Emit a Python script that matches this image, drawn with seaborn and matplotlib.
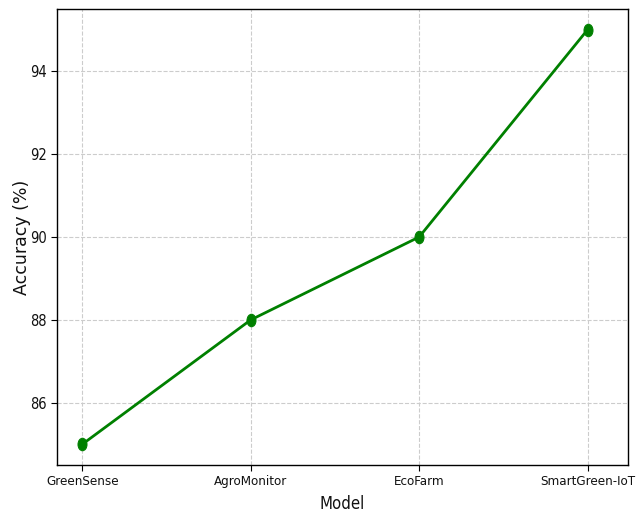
import matplotlib
matplotlib.use("Agg")
import matplotlib.pyplot as plt
import seaborn as sns
import pandas as pd
import numpy as np
from matplotlib.path import Path

models = ["GreenSense", "AgroMonitor", "EcoFarm", "SmartGreen-IoT"]
accuracy = [85, 88, 90, 95]

df = pd.DataFrame({"Model": models, "Accuracy": accuracy})

sns.set_style("ticks")
plt.rcParams['font.family'] = ['DejaVu Sans']

circ = Path.unit_circle()
ell = Path(circ.vertices * np.array([0.72, 1.0]), circ.codes)

fig = plt.figure(figsize=(6.43, 5.13), dpi=100)
ax = fig.add_axes([57/643, 1 - 465/513, (628-57)/643, (465-9)/513])

sns.lineplot(data=df, x="Model", y="Accuracy", ax=ax, color="green",
             linewidth=2, marker=ell, markersize=9, markeredgecolor="green",
             sort=False)

ax.set_xlim(-0.15, 3.24)
ax.set_ylim(84.5, 95.5)
ax.set_yticks([86, 88, 90, 92, 94])
ax.grid(True, linestyle="--", color="#cccccc", linewidth=0.8)
ax.set_axisbelow(True)

for lab in ax.get_xticklabels():
    lab.set_fontfamily("DejaVu Sans")
    lab.set_fontstretch("condensed")
    lab.set_fontsize(9.5)
    lab.set_color("#111111")
for lab in ax.get_yticklabels():
    lab.set_fontfamily("DejaVu Sans")
    lab.set_fontstretch("condensed")
    lab.set_fontsize(10.5)
    lab.set_color("#111111")
ax.set_xlabel("Model", fontsize=12, fontstretch="condensed", color="#111111")
ax.set_ylabel("Accuracy (%)", fontsize=12.5, color="#111111")
ax.yaxis.set_label_coords(-0.045, 0.5)
ax.xaxis.set_label_coords(0.5, -0.065)
for s in ax.spines.values():
    s.set_color("black")
    s.set_linewidth(1)
ax.tick_params(length=4, color="black")

fig.savefig("out.png", dpi=100)
